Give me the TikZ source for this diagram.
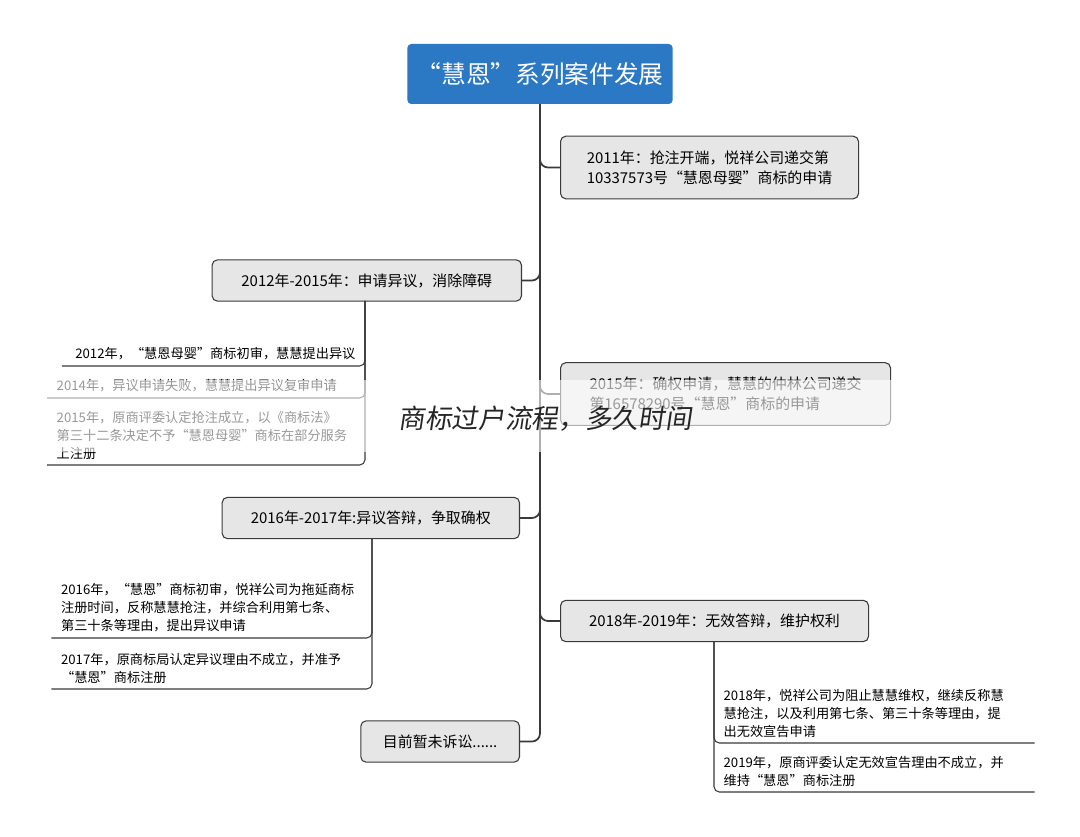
\documentclass[tikz,border=0pt]{standalone}
\usepackage{fontspec}
\setmainfont{Noto Sans CJK SC}
\usetikzlibrary{positioning}
\definecolor{rootblue}{HTML}{2B78C5}
\definecolor{boxgray}{HTML}{E6E6E6}
\definecolor{linegray}{HTML}{3A3A3A}
\tikzset{
  topic/.style={draw=linegray, fill=boxgray, rounded corners=4pt, line width=0.8pt,
    font=\fontsize{11.2}{15}\selectfont, inner xsep=12pt, inner ysep=7pt, align=left},
  leaf/.style={font=\fontsize{9.9}{13.5}\selectfont, align=left, inner xsep=7pt, inner ysep=4pt},
  link/.style={draw=linegray, line width=1.3pt, rounded corners=6pt},
  under/.style={draw=linegray, line width=0.8pt, rounded corners=4pt}
}
\begin{document}
\begin{tikzpicture}[x=0.75pt,y=-0.75pt]
  \useasboundingbox[fill=white] (0,0) rectangle (1080,837);

  % root
  \node[fill=rootblue, rounded corners=3pt, text=white, font=\fontsize{18.5}{22}\selectfont,
        minimum width=199pt, minimum height=45pt] (root) at (540,74) {“慧恩”系列案件发展};

  % main branches
  \node[topic, anchor=west, minimum height=47pt, minimum width=223.5pt] (b2011) at (560,167.5)
    {2011年：抢注开端，悦祥公司递交第\\10337573号“慧恩母婴”商标的申请};
  \node[topic, anchor=east, minimum height=31pt, minimum width=232pt] (b2012) at (522,280.5)
    {2012年-2015年：申请异议，消除障碍};
  \node[topic, anchor=west, minimum height=47pt, minimum width=247.5pt] (b2015) at (560,394)
    {2015年：确权申请，慧慧的仲林公司递交\\第16578290号“慧恩”商标的申请};
  \node[topic, anchor=east, minimum height=31pt, minimum width=223pt] (b2016) at (520,518)
    {2016年-2017年:异议答辩，争取确权};
  \node[topic, anchor=west, minimum height=31pt, minimum width=231pt] (b2018) at (560,621)
    {2018年-2019年：无效答辩，维护权利};
  \node[topic, anchor=east, minimum height=31pt, minimum width=119pt] (bnow) at (520,741.5)
    {目前暂未诉讼......};

  \foreach \b in {b2011,b2015,b2018}
    \draw[link] (root.south) |- (\b.west);
  \foreach \b in {b2012,b2016,bnow}
    \draw[link] (root.south) |- (\b.east);

  % leaves of 2012-2015
  \coordinate (s12) at (365,301);
  \node[leaf, anchor=south east, text width=213pt] (l12a) at (365,366)
    {\hfill 2012年，“慧恩母婴”商标初审，慧慧提出异议};
  \node[leaf, anchor=south east, text width=224pt] (l12b) at (365,398)
    {2014年，异议申请失败，慧慧提出异议复审申请};
  \node[leaf, anchor=south east, text width=224pt] (l12c) at (365,465)
    {2015年，原商评委认定抢注成立，以《商标法》\\第三十二条决定不予“慧恩母婴”商标在部分服务\\上注册};
  \foreach \l in {l12a,l12b,l12c}
    \draw[under] (s12) |- (\l.south west);

  % leaves of 2016-2017
  \coordinate (s16) at (372,539);
  \node[leaf, anchor=south east, text width=226pt] (l16a) at (372,638)
    {2016年，“慧恩”商标初审，悦祥公司为拖延商标\\注册时间，反称慧慧抢注，并综合利用第七条、\\第三十条等理由，提出异议申请};
  \node[leaf, anchor=south east, text width=226pt] (l16b) at (372,689)
    {2017年，原商标局认定异议理由不成立，并准予\\“慧恩”商标注册};
  \foreach \l in {l16a,l16b}
    \draw[under] (s16) |- (\l.south west);

  % leaves of 2018-2019
  \coordinate (s18) at (714,642);
  \node[leaf, anchor=south west, text width=226pt] (l18a) at (714,743)
    {2018年，悦祥公司为阻止慧慧维权，继续反称慧\\慧抢注，以及利用第七条、第三十条等理由，提\\出无效宣告申请};
  \node[leaf, anchor=south west, text width=226pt] (l18b) at (714,792)
    {2019年，原商评委认定无效宣告理由不成立，并\\维持“慧恩”商标注册};
  \foreach \l in {l18a,l18b}
    \draw[under] (s18) |- (\l.south east);

  % watermark band
  \fill[white, opacity=0.6] (40,380) rectangle (898,452);
  \node[font=\fontsize{20}{24}\selectfont\addfontfeature{FakeSlant=0.15}, text=black!85] (mark) at (545,419)
    {商标过户流程，多久时间};
\end{tikzpicture}
\end{document}
